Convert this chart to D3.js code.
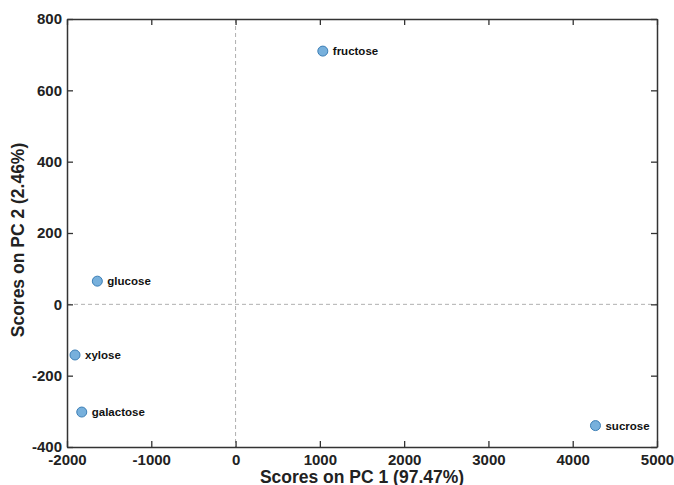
<!DOCTYPE html>
<html><head><meta charset="utf-8">
<script src="https://cdn.jsdelivr.net/npm/d3@7"></script>
<style>body{margin:0;background:#fff;} svg{display:block;font-family:"Liberation Sans",Arial,Helvetica,sans-serif;}</style>
</head><body>
<svg id="chart" width="674" height="485"></svg>
<script>
const names = ["fructose","glucose","xylose","galactose","sucrose"];
const pc1 = [1035, -1640, -1905, -1825, 4270];
const pc2 = [710, 65, -142, -302, -340];
const xTicks = [-2000,-1000,0,1000,2000,3000,4000,5000];
const yTicks = [-400,-200,0,200,400,600,800];
const xTitle = "Scores on PC 1 (97.47%)";
const yTitle = "Scores on PC 2 (2.46%)";

const svg = d3.select("#chart");
const L=67, R=657, T=19, B=447;
const x = d3.scaleLinear().domain([-2000,5000]).range([L,R]);
const y = d3.scaleLinear().domain([-400,800]).range([B,T]);
const axisColor="#333";

// dashed zero lines
svg.append("line").attr("x1",x(0)).attr("x2",x(0)).attr("y1",T).attr("y2",B)
  .attr("stroke","#9a9a9a").attr("stroke-width",0.8).attr("stroke-dasharray","4,3");
svg.append("line").attr("x1",L).attr("x2",R).attr("y1",y(0)).attr("y2",y(0))
  .attr("stroke","#9a9a9a").attr("stroke-width",0.8).attr("stroke-dasharray","4,3");

// axes with inward ticks
const fmt = d => String(d);
const gB = svg.append("g").attr("transform",`translate(0,${B})`)
  .call(d3.axisBottom(x).tickValues(xTicks).tickSizeInner(-6).tickSizeOuter(0).tickFormat(fmt));
const gT = svg.append("g").attr("transform",`translate(0,${T})`)
  .call(d3.axisTop(x).tickValues(xTicks).tickSizeInner(-6).tickSizeOuter(0).tickFormat(""));
const gL = svg.append("g").attr("transform",`translate(${L},0)`)
  .call(d3.axisLeft(y).tickValues(yTicks).tickSizeInner(-6).tickSizeOuter(0).tickFormat(fmt));
const gR = svg.append("g").attr("transform",`translate(${R},0)`)
  .call(d3.axisRight(y).tickValues(yTicks).tickSizeInner(-6).tickSizeOuter(0).tickFormat(""));
[gB,gT,gL,gR].forEach(g=>{
  g.select(".domain").attr("stroke",axisColor).attr("stroke-width",1.5);
  g.selectAll(".tick line").attr("stroke",axisColor).attr("stroke-width",1.3);
  g.selectAll(".tick text").attr("fill","#222").attr("font-size","15px").attr("font-weight","bold")
    .attr("font-family","Liberation Sans, Arial, sans-serif");
});
gL.selectAll(".tick text").attr("x",-5);
gB.selectAll(".tick text").attr("y",7);

// points
svg.append("g").selectAll("circle").data(names).join("circle")
  .attr("cx",(d,i)=>x(pc1[i])).attr("cy",(d,i)=>y(pc2[i])).attr("r",5)
  .attr("fill","#77b0dc").attr("stroke","#3d7fb6").attr("stroke-width",1);
svg.append("g").selectAll("text").data(names).join("text")
  .attr("x",(d,i)=>x(pc1[i])+10).attr("y",(d,i)=>y(pc2[i])+4)
  .attr("font-size","11.5px").attr("font-weight","bold").attr("fill","#111").text(d=>d);

// titles
svg.append("text").attr("x",362).attr("y",482.5).attr("text-anchor","middle")
  .attr("font-size","17.5px").attr("font-weight","bold").attr("fill","#222").text(xTitle);
svg.append("text").attr("transform",`translate(24,240) rotate(-90)`).attr("text-anchor","middle")
  .attr("font-size","17.5px").attr("font-weight","bold").attr("fill","#222").text(yTitle);
</script>
</body></html>
